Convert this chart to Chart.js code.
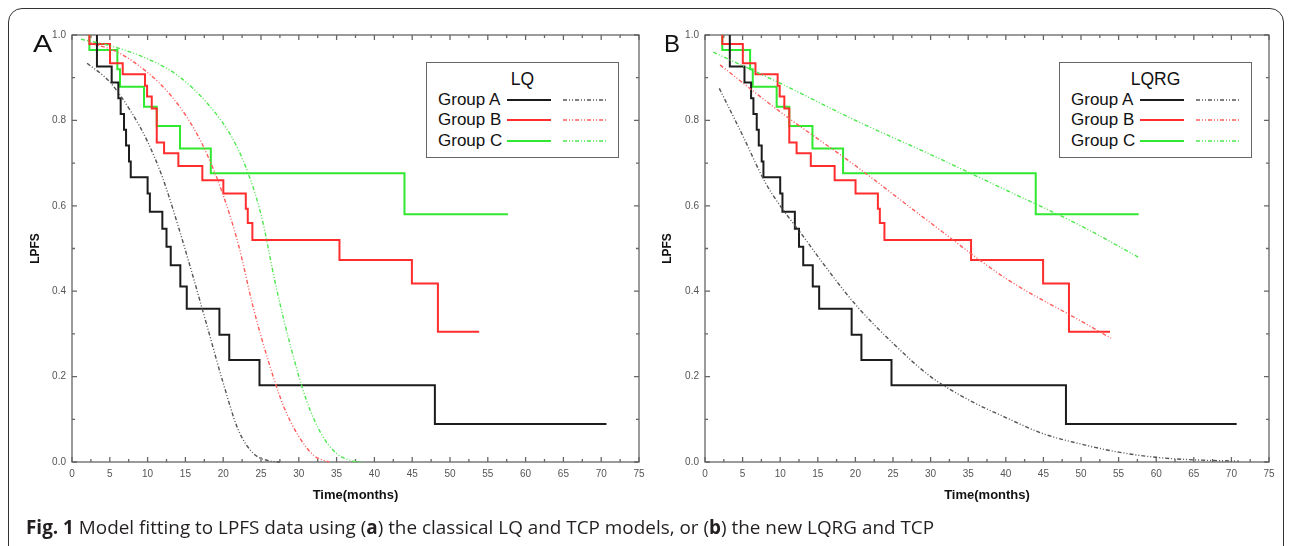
<!DOCTYPE html>
<html lang="en">
<head>
<meta charset="UTF-8">
<title>Model fitting to LPFS data</title>
<script src="https://cdn.jsdelivr.net/npm/chart.js"></script>
<style>
  body {
    margin: 0;
    width: 1292px;
    height: 546px;
    position: relative;
    overflow: hidden;
    background: #fff;
    font-family: "Liberation Sans", Arial, sans-serif;
  }
  .frame {
    position: absolute;
    left: 8px;
    top: 8px;
    width: 1274px;
    height: 600px;
    border: 1.5px solid #333;
    border-radius: 14px;
  }
  canvas { position: absolute; top: 0; }
  #chartA { left: 0; }
  #chartB { left: 645px; }
  .tag {
    position: absolute;
    top: 32px;
    font-size: 24px;
    line-height: 24px;
    color: #111;
    transform-origin: left top;
  }
  .legend {
    position: absolute;
    top: 62px;
    width: 193px;
    height: 96px;
    box-sizing: border-box;
    border: 1.5px solid #666;
    background: #fff;
    color: #111;
  }
  .legend .ttl {
    position: absolute;
    left: 0;
    width: 100%;
    top: 6px;
    text-align: center;
    font-size: 17.5px;
    line-height: 20px;
  }
  .legend .row {
    position: absolute;
    left: 0;
    height: 20px;
    width: 100%;
  }
  .legend .row span {
    position: absolute;
    left: 11px;
    width: 62px;
    text-align: right;
    font-size: 17px;
    line-height: 20px;
    white-space: nowrap;
  }
  .legend .row svg { position: absolute; left: 79px; top: 0; }
  .caption {
    position: absolute;
    left: 26px;
    top: 518px;
    font-family: "Open Sans", sans-serif;
    font-size: 18.9px;
    line-height: 19px;
    color: #231f20;
    white-space: nowrap;
  }
</style>
</head>
<body>
<div class="frame"></div>
<canvas id="chartA" width="660" height="546"></canvas>
<canvas id="chartB" width="647" height="546"></canvas>
<div class="tag" style="left:33px; transform:scaleX(1.2)">A</div>
<div class="tag" style="left:664px">B</div>
<div class="legend" id="legendA" style="left:426px"></div>
<div class="legend" id="legendB" style="left:1059px"></div>
<div class="caption"><b>Fig. 1</b> Model fitting to LPFS data using (<b>a</b>) the classical LQ and TCP models, or (<b>b</b>) the new LQRG and TCP</div>

<script>
const groups = ['Group A', 'Group B', 'Group C'];
const solidColors = ['#1c1c1c', '#ff2d2d', '#2fe82f'];
const fitColors = ['#555555', '#ff5c5c', '#4ee84e'];
const fitDash = [4, 2, 1, 2, 1, 2];

// observed LPFS (Kaplan-Meier), same data in both panels
const kmTimeA = [3.3, 3.3, 5.25, 6.13, 6.44, 6.88, 7.15, 7.54, 7.77, 10.0, 10.3, 11.95, 12.5, 13.06, 14.33, 15.18, 19.5, 20.8, 24.8, 48.0, 70.7];
const kmSurvA = [1.0, 0.926, 0.889, 0.852, 0.815, 0.778, 0.741, 0.704, 0.667, 0.629, 0.586, 0.546, 0.504, 0.461, 0.411, 0.359, 0.298, 0.239, 0.180, 0.089, 0.089];
const kmTimeB = [2.3, 2.3, 5.03, 6.71, 9.66, 9.93, 10.55, 11.21, 12.18, 14.07, 17.24, 20.02, 22.99, 23.25, 23.86, 35.38, 44.96, 48.4, 53.86];
const kmSurvB = [1.0, 0.979, 0.934, 0.908, 0.881, 0.856, 0.828, 0.748, 0.723, 0.693, 0.660, 0.629, 0.593, 0.560, 0.520, 0.473, 0.418, 0.305, 0.305];
const kmTimeC = [2.3, 2.3, 6.0, 6.35, 9.53, 11.21, 14.29, 18.36, 43.98, 57.66];
const kmSurvC = [1.0, 0.965, 0.920, 0.879, 0.832, 0.787, 0.734, 0.676, 0.580, 0.580];

// classical LQ + TCP fits (panel a)
const lqTimeA = [2, 5, 8, 10, 12, 14, 16, 18, 20, 22, 24, 26, 27.5];
const lqValA  = [0.934, 0.89, 0.815, 0.75, 0.665, 0.555, 0.435, 0.31, 0.185, 0.075, 0.02, 0.003, 0];
const lqTimeB = [2.3, 6, 10, 13, 16, 18, 20, 22, 24, 26, 28, 30, 32, 34];
const lqValB  = [0.982, 0.96, 0.912, 0.86, 0.785, 0.715, 0.625, 0.51, 0.36, 0.235, 0.13, 0.06, 0.015, 0];
const lqTimeC = [1.2, 5, 10, 14, 18, 21, 23, 25, 27, 29, 31, 33, 35, 37, 38.5];
const lqValC  = [0.99, 0.975, 0.944, 0.905, 0.838, 0.765, 0.69, 0.58, 0.41, 0.265, 0.145, 0.065, 0.02, 0.003, 0];

// LQRG + TCP fits (panel b)
const lqrgTimeA = [1.9, 5, 8, 10, 13, 16, 20, 25, 30, 35, 40, 45, 50, 55, 60, 65, 71];
const lqrgValA  = [0.875, 0.765, 0.655, 0.6, 0.53, 0.458, 0.369, 0.278, 0.2, 0.146, 0.104, 0.066, 0.042, 0.023, 0.011, 0.005, 0.002];
const lqrgTimeB = [2, 10, 20, 30, 40, 50, 54];
const lqrgValB  = [0.93, 0.82, 0.694, 0.56, 0.43, 0.33, 0.29];
const lqrgTimeC = [1.1, 10, 20, 30, 40, 50, 57.6];
const lqrgValC  = [0.96, 0.887, 0.80, 0.72, 0.637, 0.553, 0.48];

const tickColor = '#555';
const axisColor = '#666';
const fontFamily = '"Liberation Sans", Arial, sans-serif';

function pts(t, v) {
  return t.map((x, i) => ({ x: x, y: v[i] }));
}

function makeDatasets(fits) {
  const km = [[kmTimeA, kmSurvA], [kmTimeB, kmSurvB], [kmTimeC, kmSurvC]];
  const ds = [];
  fits.forEach((f, i) => ds.push({
    data: pts(f[0], f[1]), borderColor: fitColors[i], borderWidth: 1.4,
    borderDash: fitDash, cubicInterpolationMode: 'monotone', pointRadius: 0, clip: false
  }));
  km.forEach((k, i) => ds.push({
    data: pts(k[0], k[1]), borderColor: solidColors[i], borderWidth: 2,
    stepped: 'before', pointRadius: 0, clip: false
  }));
  return ds;
}

// frame with inward ticks on all four sides
const boxTicks = {
  id: 'boxTicks',
  beforeDatasetsDraw(chart) {
    const { ctx, chartArea: a, scales: { x, y } } = chart;
    ctx.save();
    ctx.strokeStyle = axisColor;
    ctx.lineWidth = 1.3;
    ctx.strokeRect(a.left, a.top, a.right - a.left, a.bottom - a.top);
    ctx.beginPath();
    x.ticks.forEach(t => {
      const px = x.getPixelForValue(t.value);
      const len = t.value % 5 === 0 ? 5 : 3;
      ctx.moveTo(px, a.bottom); ctx.lineTo(px, a.bottom - len);
      ctx.moveTo(px, a.top); ctx.lineTo(px, a.top + len);
    });
    y.ticks.forEach(t => {
      const py = y.getPixelForValue(t.value);
      const len = Math.round(t.value * 10) % 2 === 0 ? 5 : 3;
      ctx.moveTo(a.left, py); ctx.lineTo(a.left + len, py);
      ctx.moveTo(a.right, py); ctx.lineTo(a.right - len, py);
    });
    ctx.stroke();
    ctx.restore();
  }
};

function makeChart(id, datasets, padLeft, yWidth, padRight) {
  return new Chart(document.getElementById(id), {
    type: 'line',
    data: { datasets },
    options: {
      responsive: false,
      animation: false,
      layout: { padding: { left: padLeft, right: padRight, top: 35, bottom: 40 } },
      plugins: { legend: { display: false }, tooltip: { enabled: false } },
      scales: {
        x: {
          type: 'linear', min: 0, max: 75,
          grid: { display: false, drawTicks: false },
          border: { display: false },
          ticks: {
            stepSize: 2.5, autoSkip: false, maxRotation: 0, padding: 6,
            color: tickColor, font: { family: fontFamily, size: 10 },
            callback: v => (v % 5 === 0 ? String(v) : '')
          },
          title: {
            display: true, text: 'Time(months)', color: '#111',
            font: { family: fontFamily, size: 13, weight: 'bold' },
            padding: { top: 0, bottom: 3 }
          },
          afterFit: s => { s.height = 44; }
        },
        y: {
          type: 'linear', min: 0, max: 1,
          grid: { display: false, drawTicks: false },
          border: { display: false },
          ticks: {
            stepSize: 0.1, autoSkip: false, padding: 6,
            color: tickColor, font: { family: fontFamily, size: 10 },
            callback: v => (Math.round(v * 10) % 2 === 0 ? v.toFixed(1) : '')
          },
          title: {
            display: true, text: 'LPFS', color: '#111',
            font: { family: fontFamily, size: 12, weight: 'bold' },
            padding: { top: 0, bottom: 0 }
          },
          afterFit: s => { s.width = yWidth; }
        }
      }
    },
    plugins: [boxTicks]
  });
}

function buildLegend(id, title) {
  const box = document.getElementById(id);
  let html = '<div class="ttl">' + title + '</div>';
  groups.forEach((g, i) => {
    const top = 27 + i * 20.3;
    html += '<div class="row" style="top:' + top + 'px"><span>' + g + '</span>' +
      '<svg width="104" height="20">' +
      '<line x1="1" y1="10" x2="45" y2="10" stroke="' + solidColors[i] + '" stroke-width="2"/>' +
      '<line x1="57" y1="10" x2="101" y2="10" stroke="' + fitColors[i] + '" stroke-width="1.4" stroke-dasharray="' + fitDash.join(' ') + '"/>' +
      '</svg></div>';
  });
  box.innerHTML = html;
}

makeChart('chartA', makeDatasets([[lqTimeA, lqValA], [lqTimeB, lqValB], [lqTimeC, lqValC]]), 28, 44, 21);
makeChart('chartB', makeDatasets([[lqrgTimeA, lqrgValA], [lqrgTimeB, lqrgValB], [lqrgTimeC, lqrgValC]]), 15, 45, 23);
buildLegend('legendA', 'LQ');
buildLegend('legendB', 'LQRG');
</script>
</body>
</html>
